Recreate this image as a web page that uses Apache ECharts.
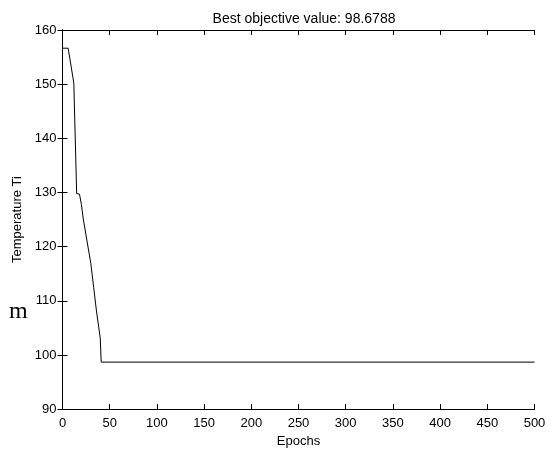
<!DOCTYPE html>
<html>
<head>
<meta charset="utf-8">
<script src="https://cdn.jsdelivr.net/npm/echarts@6/dist/echarts.min.js"></script>
<style>
  html, body { margin: 0; padding: 0; background: #fff; }
  #chart { width: 551px; height: 453px; }
</style>
</head>
<body>
<div id="chart"></div>
<script>
// values
var epochs = [0, 6, 12, 15, 18, 20, 22, 26, 30, 33, 36, 40, 41, 500];
var bestValues = [156.64, 156.64, 150.2, 129.8, 129.7, 127.8, 125.1, 121.0, 116.9, 112.5, 108.1, 103.1, 98.6788, 98.6788];
var xTicks = { min: 0, max: 500, step: 50 };
var yTicks = { min: 90, max: 160, step: 10 };

var lineData = epochs.map(function (e, i) { return [e, bestValues[i]]; });

var myChart = echarts.init(document.getElementById('chart'));

var font = 'Liberation Sans, Arial, sans-serif';
var axisLine = { show: true, lineStyle: { color: '#000', width: 1 } };
var tick = { show: true, inside: true, length: 5, lineStyle: { color: '#000' } };

var option = {
    backgroundColor: '#fff',
    animation: false,
    title: {
        text: 'Best objective value: 98.6788',
        left: 299,
        textAlign: 'center',
        top: 7,
        textStyle: { fontFamily: font, fontSize: 14, fontWeight: 'normal', color: '#000' }
    },
    grid: { left: 62.5, right: 16.5, top: 30, bottom: 41.5, containLabel: false },
    xAxis: [
        {
            type: 'value', min: xTicks.min, max: xTicks.max, interval: xTicks.step,
            position: 'bottom',
            name: 'Epochs', nameLocation: 'middle', nameGap: 24,
            nameTextStyle: { fontFamily: font, fontSize: 13, color: '#000' },
            axisLine: axisLine, axisTick: tick,
            axisLabel: { fontFamily: font, fontSize: 13, color: '#000', margin: 8 },
            splitLine: { show: false }
        },
        {
            type: 'value', min: xTicks.min, max: xTicks.max, interval: xTicks.step,
            position: 'top',
            axisLine: axisLine, axisTick: tick,
            axisLabel: { show: false }, splitLine: { show: false }
        }
    ],
    yAxis: [
        {
            type: 'value', min: yTicks.min, max: yTicks.max, interval: yTicks.step,
            position: 'left',
            name: 'Temperature Ti', nameLocation: 'middle', nameGap: 38,
            nameTextStyle: { fontFamily: font, fontSize: 13, color: '#000' },
            axisLine: axisLine, axisTick: tick,
            axisLabel: { fontFamily: font, fontSize: 13, color: '#000', margin: 6 },
            splitLine: { show: false }
        },
        {
            type: 'value', min: yTicks.min, max: yTicks.max, interval: yTicks.step,
            position: 'right',
            axisLine: axisLine, axisTick: tick,
            axisLabel: { show: false }, splitLine: { show: false }
        }
    ],
    graphic: [
        {
            type: 'text', left: 9, top: 300,
            style: { text: 'm', font: '24px "Liberation Serif", "Times New Roman", serif', fill: '#000' }
        }
    ],
    series: [
        {
            type: 'line',
            xAxisIndex: 0, yAxisIndex: 0,
            data: lineData,
            showSymbol: false,
            lineStyle: { color: '#000', width: 1 },
            silent: true
        }
    ]
};

myChart.setOption(option);
</script>
</body>
</html>
